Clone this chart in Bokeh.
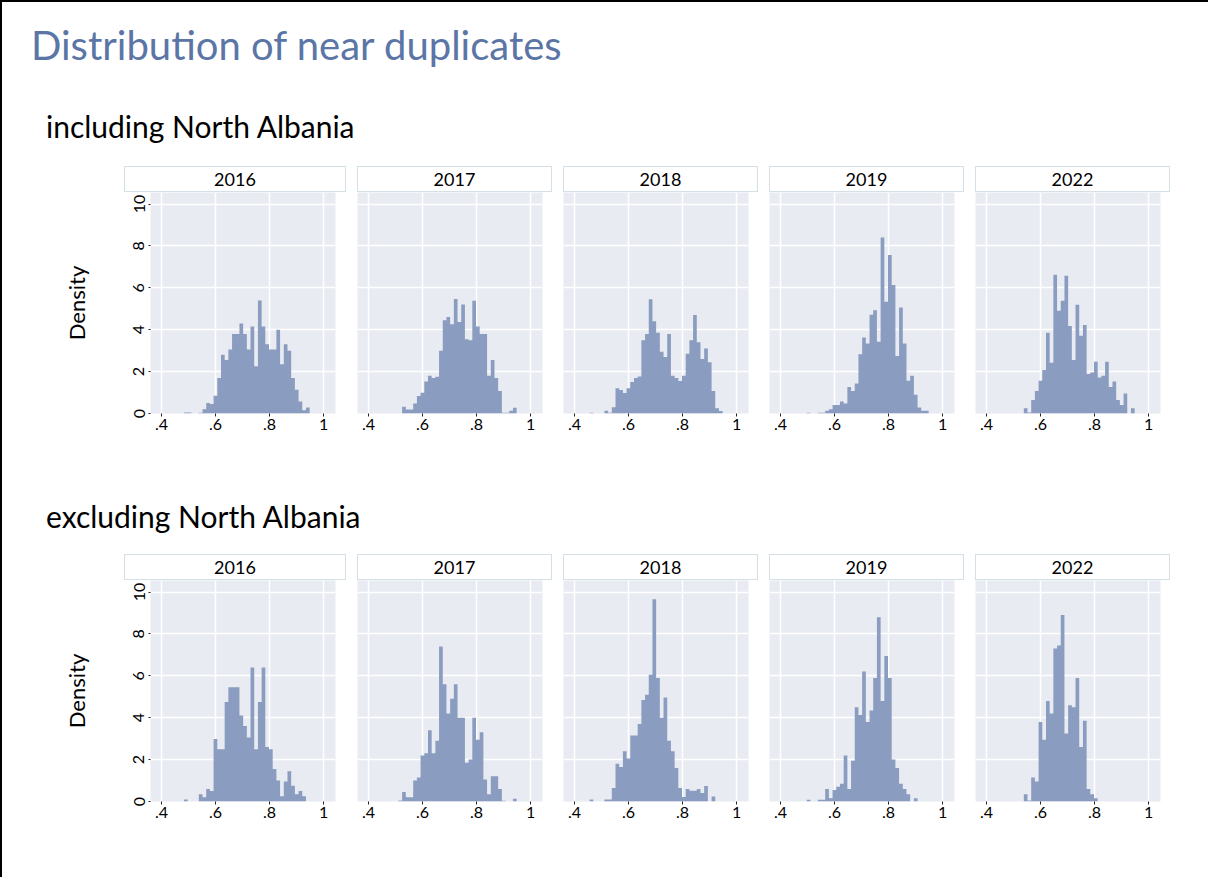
import numpy as np
from bokeh.plotting import figure
from bokeh.models import Div, Spacer, FixedTicker, Range1d
from bokeh.layouts import row, column
from bokeh.embed import file_html
from bokeh.resources import INLINE

# ---------------- data ----------------
TITLE = "Distribution of near duplicates"
SUBTITLES = ["including North Albania", "excluding North Albania"]
YEARS = ["2016", "2017", "2018", "2019", "2022"]

BIN_START = 0.4558
BIN_WIDTH = 0.01368

X_TICKS = [0.4, 0.6, 0.8, 1.0]
X_LABELS = [".4", ".6", ".8", "1"]
Y_TICKS = [0, 2, 4, 6, 8, 10]

incl_2016 = [0, 0, 0.05, 0.05, 0, 0, 0.03, 0.2, 0.5, 0.45,
             0.85, 1.7, 2.8, 2.55, 3.05, 3.8, 3.8, 4.3, 3.8, 3.05,
             4.15, 2.25, 5.4, 4.15, 3.3, 3.05, 3.05, 4.0, 2.35, 3.3,
             3.0, 1.7, 1.13, 0.57, 0.16, 0.29]
incl_2017 = [0, 0, 0, 0, 0, 0.32, 0.19, 0.19, 0.48, 0.84,
             0.99, 1.53, 1.8, 1.69, 1.75, 2.99, 4.45, 4.61, 4.26, 5.47,
             4.37, 5.2, 3.55, 3.5, 5.38, 4.15, 3.79, 3.79, 1.8, 2.55,
             1.69, 1.08, 0.03, 0.03, 0.13, 0.27]
incl_2018 = [0.03, 0, 0, 0, 0.13, 0.03, 0.3, 1.2, 1.12, 0.98,
             1.2, 1.5, 1.7, 1.77, 3.5, 3.8, 5.45, 4.4, 3.85, 2.95,
             2.7, 3.8, 1.8, 1.7, 1.55, 1.8, 2.85, 3.5, 4.7, 3.4,
             2.6, 3.1, 2.45, 1.08, 0.25, 0.12]
incl_2019 = [0, 0, 0, 0.03, 0, 0, 0.03, 0.03, 0.13, 0.2,
             0.4, 0.4, 0.57, 0.48, 1.27, 1.08, 1.43, 2.83, 3.63, 3.34,
             4.71, 4.93, 3.42, 8.4, 5.33, 7.57, 6.13, 2.75, 5.06, 3.34,
             1.56, 1.8, 0.89, 0.29, 0.13, 0.13]
incl_2022 = [0, 0, 0, 0, 0, 0, 0.25, 0.05, 0.64, 1.08,
             1.56, 2.08, 3.85, 2.42, 6.62, 4.9, 5.38, 6.57, 4.18, 2.55,
             5.19, 3.71, 4.23, 1.88, 1.96, 2.47, 1.72, 1.8, 2.47, 1.27,
             1.53, 0.64, 0.41, 0.95, 0, 0.25]

excl_2016 = [0, 0, 0.1, 0, 0, 0, 0.35, 0.2, 0.6, 0.5,
             2.98, 2.5, 2.5, 4.75, 5.45, 5.45, 5.45, 4.1, 3.6, 3.06,
             6.4, 2.5, 4.75, 6.4, 2.6, 2.5, 1.55, 1.0, 0.25, 0.95,
             1.45, 0.75, 0.35, 0.5, 0.25, 0]
excl_2017 = [0, 0, 0, 0, 0.05, 0.45, 0.2, 0.2, 1.0, 1.15,
             2.2, 2.3, 3.4, 2.3, 2.9, 7.4, 5.6, 4.2, 4.9, 5.6,
             4.0, 4.0, 1.85, 2.0, 4.0, 2.95, 3.3, 1.05, 0.35, 1.2,
             1.2, 0.6, 0.03, 0, 0, 0.13]
excl_2018 = [0.1, 0, 0, 0, 0.1, 0.1, 0.65, 1.8, 1.65, 2.4,
             2.05, 3.15, 3.15, 3.7, 4.85, 5.1, 6.05, 9.65, 5.9, 4.0,
             4.96, 2.9, 2.4, 1.6, 0.64, 0.22, 0.6, 0.51, 0.51, 0.6,
             0.4, 0.74, 0, 0.24, 0, 0]
excl_2019 = [0, 0, 0, 0.08, 0, 0, 0.08, 0.08, 0.6, 0.16,
             0.55, 0.7, 0.85, 2.2, 0.6, 1.95, 4.5, 4.13, 6.2, 3.8,
             4.35, 5.9, 8.8, 4.8, 6.95, 5.9, 2.0, 1.6, 0.85, 0.6,
             0.35, 0, 0.15, 0, 0, 0]
excl_2022 = [0, 0, 0, 0, 0, 0, 0.35, 0.05, 1.15, 0.95,
             3.8, 2.95, 4.8, 4.2, 7.3, 7.45, 8.9, 3.25, 4.6, 4.5,
             5.9, 2.6, 3.85, 0.6, 0.35, 0.15, 0, 0, 0, 0,
             0, 0, 0, 0, 0, 0]

ROWS = [
    [incl_2016, incl_2017, incl_2018, incl_2019, incl_2022],
    [excl_2016, excl_2017, excl_2018, excl_2019, excl_2022],
]

# ---------------- style ----------------
FONT = "Lato"
BAR_FILL = "#8a9cbf"
PLOT_BG = "#e8ebf2"
TITLE_COLOR = "#5b76a6"
STRIP_BORDER = "#d5e0e6"
PAGE_W = 1206


def make_panel(vals, first):
    p = figure(frame_width=185, frame_height=221,
               x_range=Range1d(0.359, 1.044), y_range=Range1d(0, 10.55),
               output_backend="svg", toolbar_location=None,
               min_border_left=100 if first else 0,
               min_border_right=11 if first else 10,
               min_border_top=0, min_border_bottom=40)
    p.background_fill_color = PLOT_BG
    p.border_fill_color = "white"
    p.outline_line_color = None

    v = np.array(vals, dtype=float)
    edges = BIN_START + BIN_WIDTH * np.arange(len(v) + 1)
    heights = np.append(v, v[-1])
    # histogram bars as one step-filled area (no seams between adjacent bars)
    p.varea_step(x=edges, y1=np.zeros_like(heights), y2=heights,
                 step_mode="after", fill_color=BAR_FILL)

    p.xgrid.ticker = FixedTicker(ticks=X_TICKS)
    p.ygrid.ticker = FixedTicker(ticks=Y_TICKS)
    for g in (p.xgrid, p.ygrid):
        g.grid_line_color = "white"
        g.grid_line_width = 1.5

    xa = p.xaxis[0]
    xa.ticker = FixedTicker(ticks=X_TICKS)
    xa.major_label_overrides = {t: l for t, l in zip(X_TICKS, X_LABELS)}
    xa.axis_line_color = None
    xa.major_tick_in = 0
    xa.major_tick_out = 3
    xa.minor_tick_out = 0
    xa.minor_tick_in = 0
    xa.major_tick_line_color = "#222222"
    xa.major_label_standoff = 2
    xa.major_label_text_font = FONT
    xa.major_label_text_font_size = "16px"
    xa.major_label_text_color = "black"

    ya = p.yaxis[0]
    if first:
        ya.ticker = FixedTicker(ticks=Y_TICKS)
        ya.axis_line_color = None
        ya.major_tick_in = 0
        ya.major_tick_out = 2
        ya.minor_tick_out = 0
        ya.minor_tick_in = 0
        ya.major_tick_line_color = "#222222"
        ya.major_label_orientation = "vertical"
        ya.major_label_standoff = 4
        ya.major_label_text_font = FONT
        ya.major_label_text_font_size = "16px"
        ya.major_label_text_color = "black"
        ya.axis_label = "Density"
        ya.axis_label_text_font = FONT
        ya.axis_label_text_font_size = "22px"
        ya.axis_label_text_font_style = "normal"
        ya.axis_label_text_color = "black"
        ya.axis_label_standoff = 41
    else:
        ya.visible = False
    return p


def strip(label, w):
    html = (f'<div style="box-sizing:border-box;width:{w}px;height:26px;'
            f'border:1px solid {STRIP_BORDER};background:#ffffff;font-family:{FONT};'
            f'font-size:18px;line-height:24px;text-align:center;color:#000;">{label}</div>')
    return Div(text=html, width=w, height=26, margin=0)


def text_div(txt, size, color, pad_top, pad_left, height):
    html = (f'<div style="font-family:{FONT};font-size:{size}px;line-height:{size}px;'
            f'color:{color};padding-top:{pad_top}px;padding-left:{pad_left}px;'
            f'white-space:nowrap;">{txt}</div>')
    return Div(text=html, width=PAGE_W, height=height, margin=0)


def panel_rows(vals_list):
    strips = [Spacer(width=122, height=26, margin=0), strip(YEARS[0], 222)]
    figs = [Spacer(width=48, height=10, margin=0), make_panel(vals_list[0], True)]
    for yr, vals in zip(YEARS[1:], vals_list[1:]):
        strips += [Spacer(width=11, height=26, margin=0), strip(yr, 195)]
        figs += [Spacer(width=11, height=10, margin=0), make_panel(vals, False)]
    return row(*strips, margin=0), row(*figs, margin=0)


s1, f1 = panel_rows(ROWS[0])
s2, f2 = panel_rows(ROWS[1])

layout = column(
    Spacer(width=PAGE_W, height=8, margin=0),
    text_div(TITLE, 40, TITLE_COLOR, 15, 29, 78),
    text_div(SUBTITLES[0], 30, "#000000", 23, 44, 78),
    s1, f1,
    text_div(SUBTITLES[1], 30, "#000000", 48, 44, 101),
    s2, f2,
    Spacer(width=PAGE_W, height=36, margin=0),
    margin=0,
    styles={"border-top": "2px solid #000", "border-left": "2px solid #000"},
)

open("out.html", "w").write(file_html(layout, INLINE))
